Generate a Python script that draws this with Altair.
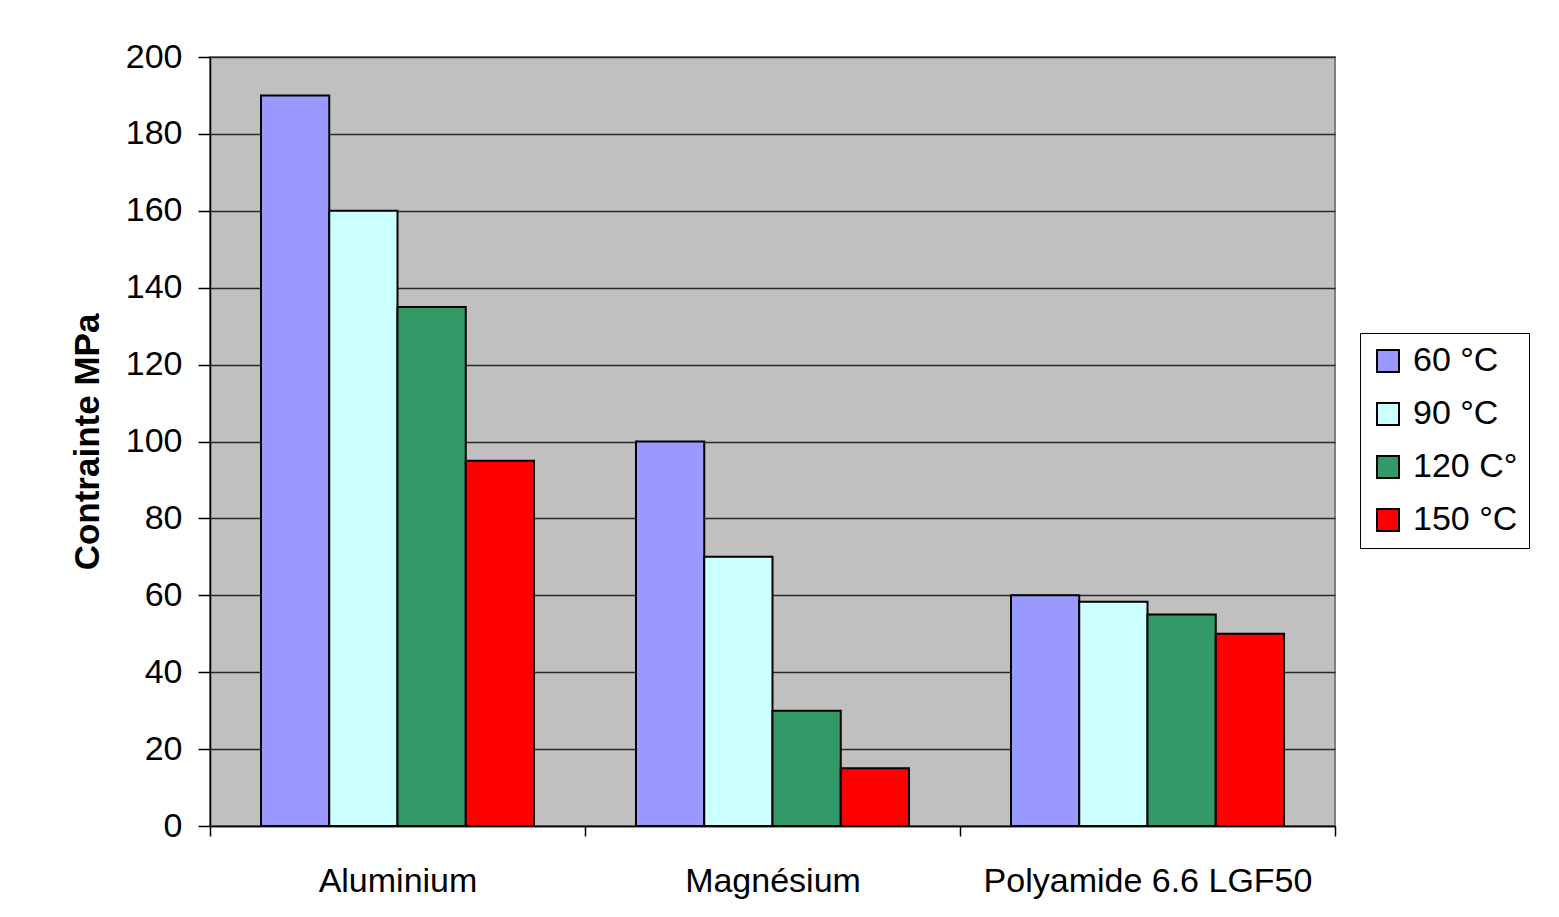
import altair as alt
import pandas as pd

categories = ["Aluminium", "Magnésium", "Polyamide 6.6 LGF50"]
series = ["60 °C", "90 °C", "120 C°", "150 °C"]
values_60 = [190, 100, 60]
values_90 = [160, 70, 58.3]
values_120 = [135, 30, 55]
values_150 = [95, 15, 50]
colors = ["#9999FF", "#CCFFFF", "#339966", "#FF0000"]
y_ticks = [0, 20, 40, 60, 80, 100, 120, 140, 160, 180, 200]

rows = []
for s, vals in zip(series, [values_60, values_90, values_120, values_150]):
    for c, v in zip(categories, vals):
        rows.append({"material": c, "serie": s, "value": v})
df = pd.DataFrame(rows)

FONT = "Liberation Sans"

chart = alt.Chart(df).mark_bar(stroke="black", strokeWidth=2).encode(
    x=alt.X(
        "material:N",
        sort=categories,
        scale=alt.Scale(paddingInner=0, paddingOuter=0),
        axis=alt.Axis(
            title=None,
            labelAngle=0,
            tickBand="extent",
            labelFont=FONT,
            labelFontSize=34,
            labelColor="black",
            labelPadding=28,
            labelLimit=600,
            tickSize=10,
            tickColor="black",
            tickWidth=1.5,
            domainColor="black",
            domainWidth=1.5,
            grid=False,
        ),
    ),
    xOffset=alt.XOffset("serie:N", sort=series, scale=alt.Scale(paddingInner=0, paddingOuter=0.747)),
    y=alt.Y(
        "value:Q",
        scale=alt.Scale(domain=[0, 200], nice=False),
        axis=alt.Axis(
            title="Contrainte MPa",
            values=y_ticks,
            titleFont=FONT,
            titleFontSize=35,
            titleFontWeight="bold",
            titleColor="black",
            titlePadding=20,
            labelFont=FONT,
            labelFontSize=34,
            labelColor="black",
            labelPadding=16,
            tickSize=12,
            tickColor="black",
            tickWidth=1.5,
            domainColor="black",
            domainWidth=1.5,
            grid=True,
            gridColor="#2a2a2a",
            gridWidth=1.3,
        ),
    ),
    color=alt.Color(
        "serie:N",
        sort=series,
        scale=alt.Scale(domain=series, range=colors),
        legend=alt.Legend(
            title=None,
            orient="none",
            legendX=1150,
            legendY=276,
            fillColor="white",
            strokeColor="black",
            padding=11,
            symbolType="square",
            symbolSize=484,
            symbolStrokeColor="black",
            symbolStrokeWidth=2,
            symbolOpacity=1,
            labelFont=FONT,
            labelFontSize=34,
            labelColor="black",
            labelOffset=8,
            rowPadding=19,
            labelLimit=300,
        ),
    ),
).properties(
    width=1125,
    height=769,
    background="white",
    autosize=alt.AutoSizeParams(type="none"),
    padding={"left": 202, "top": 49, "right": 205, "bottom": 75},
).configure_view(
    fill="#C0C0C0",
    stroke="#808080",
    strokeWidth=2,
)

chart.save("out.html", embed_options={"renderer": "svg", "actions": False})
